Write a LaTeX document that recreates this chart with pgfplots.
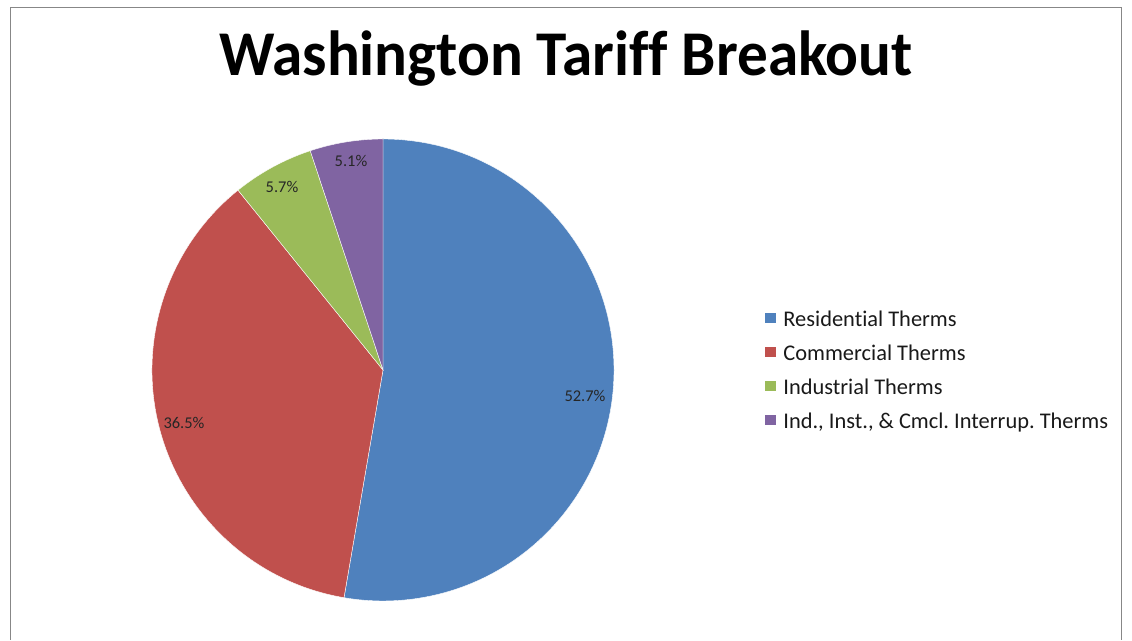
\documentclass[border=0pt]{standalone}
\usepackage{pgfplots}
\pgfplotsset{compat=1.18}
\usepackage{pgfplotstable}
\usepackage{fontspec}
\setmainfont[Ligatures=NoCommon]{Carlito}
\frenchspacing

\definecolor{piecol0}{HTML}{4F81BD}
\definecolor{piecol1}{HTML}{C0504D}
\definecolor{piecol2}{HTML}{9BBB59}
\definecolor{piecol3}{HTML}{8064A2}

% shares of the Washington tariff, in percent
\pgfplotstableread{
name        pct
Residential 52.7
Commercial  36.5
Industrial  5.7
Interrup    5.1
}\pietable

\begin{document}
\begin{tikzpicture}
\begin{axis}[
  width=1132bp, height=640bp, scale only axis,
  xmin=0, xmax=1132, ymin=0, ymax=640,
  hide axis, clip=false,
  legend style={at={(axis cs:765,330)}, anchor=north west, draw=none, fill=none,
    font=\fontsize{22.5}{25}\selectfont, text=black!90, row sep=13bp,
    inner sep=0pt, nodes={inner sep=0pt, text height=16bp, text depth=5bp}},
  legend cell align=left,
  legend image code/.code={\fill[#1, draw=none] (0bp,-2bp) rectangle (11bp,8bp);
    \path (18bp,0bp);},
]
\path (axis cs:0,0) rectangle (axis cs:1132,640);

% pie wedges, clockwise from 12 o'clock
\xdef\angstart{90}
\pgfplotsinvokeforeach{0,...,3}{%
  \pgfplotstablegetelem{#1}{pct}\of\pietable
  \pgfmathsetmacro\angend{\angstart-3.6*\pgfplotsretval}
  \edef\tmp{\noexpand\fill[piecol#1, draw=white, line width=0.4bp]
    (axis cs:383,270) -- ++(\angstart:231bp)
    arc[start angle=\angstart, end angle=\angend, radius=231bp] -- cycle;}
  \tmp
  \xdef\angstart{\angend}
}

\addlegendimage{fill=piecol0}
\addlegendentry{Residential Therms}
\addlegendimage{fill=piecol1}
\addlegendentry{Commercial Therms}
\addlegendimage{fill=piecol2}
\addlegendentry{Industrial Therms}
\addlegendimage{fill=piecol3}
\addlegendentry{Ind., Inst., \& Cmcl. Interrup. Therms}

% data labels
\begin{scope}[every node/.style={font=\fontsize{16.5}{19}\selectfont, text=black!85}]
\node at (axis cs:585,244) {52.7\%};
\node at (axis cs:184,217) {36.5\%};
\node at (axis cs:282,453) {5.7\%};
\node at (axis cs:351,479) {5.1\%};
\end{scope}

% title
\node[anchor=base, font=\bfseries\fontsize{64}{72}\selectfont, xscale=0.96]
  at (axis cs:566,564) {Washington Tariff Breakout};

% chart frame
\draw[color=black!47, line width=1.4bp]
  (axis cs:10.5,0) -- (axis cs:10.5,632.5) -- (axis cs:1121.5,632.5) -- (axis cs:1121.5,0);
\end{axis}
\end{tikzpicture}
\end{document}
